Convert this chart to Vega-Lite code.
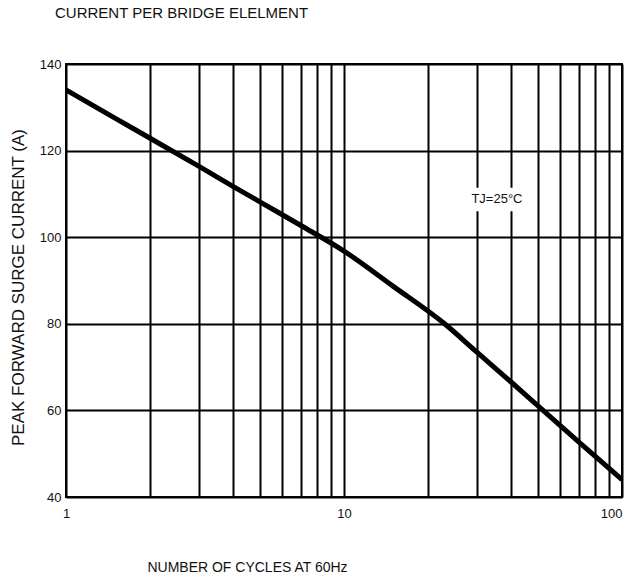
{
  "$schema": "https://vega.github.io/schema/vega-lite/v6.json",
  "width": 556,
  "height": 433,
  "autosize": {"type": "none"},
  "padding": {"left": 66, "top": 64, "right": 4, "bottom": 86},
  "background": "white",
  "config": {
    "font": "Liberation Sans",
    "view": {"stroke": "black", "strokeWidth": 2},
    "axis": {
      "grid": true,
      "gridColor": "black",
      "gridWidth": 2,
      "gridOpacity": 1,
      "ticks": false,
      "domain": false,
      "labelColor": "#111",
      "labelFontSize": 13,
      "titleFontWeight": "normal",
      "titleColor": "#111",
      "titleFontSize": 14
    }
  },
  "title": {
    "text": "CURRENT PER BRIDGE ELELMENT",
    "anchor": "start",
    "frame": "group",
    "dx": -11,
    "offset": 37,
    "fontSize": 15,
    "fontWeight": "normal",
    "color": "#111"
  },
  "layer": [
    {
      "data": {
        "values": [
          {"cycles": 1, "current": 134.0},
          {"cycles": 1.5, "current": 127.5},
          {"cycles": 2, "current": 122.9},
          {"cycles": 3, "current": 116.4},
          {"cycles": 4, "current": 111.7},
          {"cycles": 5, "current": 108.1},
          {"cycles": 7, "current": 102.7},
          {"cycles": 10, "current": 96.8},
          {"cycles": 15, "current": 88.7},
          {"cycles": 23, "current": 80.0},
          {"cycles": 30, "current": 73.5},
          {"cycles": 40, "current": 66.5},
          {"cycles": 50, "current": 61.0},
          {"cycles": 70, "current": 52.7},
          {"cycles": 100, "current": 44.0}
        ]
      },
      "mark": {"type": "line", "color": "black", "strokeWidth": 5, "interpolate": "monotone", "clip": true},
      "encoding": {
        "x": {
          "field": "cycles",
          "type": "quantitative",
          "scale": {"type": "log", "domain": [1, 100], "nice": false},
          "axis": {
            "title": "NUMBER OF CYCLES AT 60Hz",
            "values": [1, 2, 3, 4, 5, 6, 7, 8, 9, 10, 20, 30, 40, 50, 60, 70, 80, 90, 100],
            "labelExpr": "datum.value == 1 || datum.value == 10 || datum.value == 100 ? datum.value : ''",
            "labelPadding": 10,
            "labelFlush": false,
            "labelAlign": {"condition": {"test": "datum.value == 100", "value": "right"}, "value": "center"},
            "titleX": 181,
            "titleY": 70,
            "titleAlign": "center",
            "titleBaseline": "middle",
            "titleAnchor": null
          }
        },
        "y": {
          "field": "current",
          "type": "quantitative",
          "scale": {"domain": [40, 140], "nice": false},
          "axis": {
            "title": "PEAK FORWARD SURGE CURRENT (A)",
            "values": [40, 60, 80, 100, 120, 140],
            "labelPadding": 5,
            "titleX": -48,
            "titleY": 223,
            "titleFontSize": 17,
            "titleAlign": "center",
            "titleBaseline": "middle",
            "titleAngle": -90
          }
        }
      }
    },
    {
      "data": {"values": [{"x1": 26.6, "x2": 47.5, "y1": 106.0, "y2": 111.4}]},
      "mark": {"type": "rect", "color": "white"},
      "encoding": {
        "x": {"field": "x1", "type": "quantitative"},
        "x2": {"field": "x2"},
        "y": {"field": "y1", "type": "quantitative"},
        "y2": {"field": "y2"}
      }
    },
    {
      "data": {"values": [{"cycles": 35.5, "current": 108.8, "label": "TJ=25°C"}]},
      "mark": {"type": "text", "fontSize": 13, "color": "#111", "align": "center", "baseline": "middle"},
      "encoding": {
        "x": {"field": "cycles", "type": "quantitative"},
        "y": {"field": "current", "type": "quantitative"},
        "text": {"field": "label"}
      }
    }
  ]
}
